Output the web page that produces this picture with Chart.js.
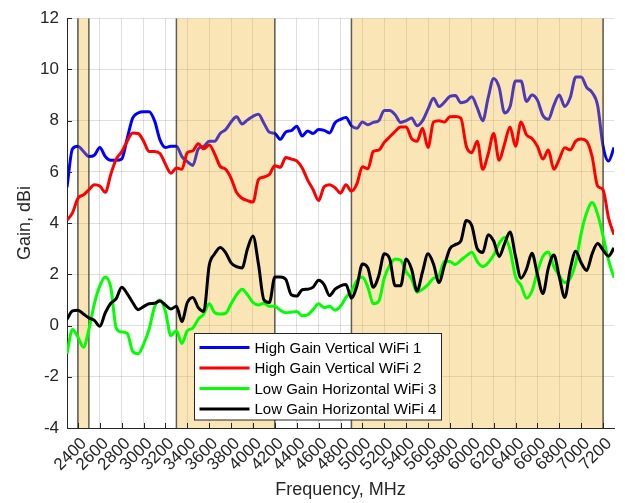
<!DOCTYPE html>
<html lang="en">
<head>
    <meta charset="UTF-8">
    <title>Antenna Gain vs Frequency</title>
    <script src="https://cdn.jsdelivr.net/npm/chart.js"></script>
    <style>
        html, body {
            margin: 0;
            padding: 0;
            background: #fff;
        }
        #wrap {
            width: 625px;
            height: 503px;
        }
    </style>
</head>
<body>
    <div id="wrap"><canvas id="gainChart" width="625" height="503"></canvas></div>
    <script>
        // frequency points, MHz
        const freqs = [
            2300, 2350, 2400, 2450, 2500, 2550, 2600, 2650, 2700, 2750,
            2800, 2850, 2900, 2950, 3000, 3050, 3100, 3150, 3200, 3250,
            3300, 3350, 3400, 3450, 3500, 3550, 3600, 3650, 3700, 3750,
            3800, 3850, 3900, 3950, 4000, 4050, 4100, 4150, 4200, 4250,
            4300, 4350, 4400, 4450, 4500, 4550, 4600, 4650, 4700, 4750,
            4800, 4850, 4900, 4950, 5000, 5050, 5100, 5150, 5200, 5250,
            5300, 5350, 5400, 5450, 5500, 5550, 5600, 5650, 5700, 5750,
            5800, 5850, 5900, 5950, 6000, 6050, 6100, 6150, 6200, 6250,
            6300, 6350, 6400, 6450, 6500, 6550, 6600, 6650, 6700, 6750,
            6800, 6850, 6900, 6950, 7000, 7050, 7100, 7150, 7200, 7250,
            7300
        ];

        const wifi1 = [
            5.4, 6.9, 7.0, 6.8, 6.6, 6.65, 6.95, 6.6, 6.45, 6.45,
            6.5, 7.3, 8.1, 8.3, 8.35, 8.35, 8.0, 7.25, 6.95, 7.0,
            7.0, 6.6, 6.4, 6.25, 6.9, 7.0, 7.2, 7.2, 7.5, 7.65,
            7.95, 8.15, 7.87, 8.03, 8.17, 8.25, 7.9, 7.55, 7.5, 7.27,
            7.56, 7.61, 7.78, 7.4, 7.6, 7.5, 7.65, 7.62, 7.52, 7.92,
            8.05, 8.12, 7.8, 7.7, 7.95, 7.84, 7.93, 8.0, 8.4, 8.4,
            8.23, 7.93, 8.0, 8.1, 7.8, 8.0, 8.45, 8.87, 8.55, 8.72,
            8.95, 8.98, 8.7, 8.75, 8.93, 8.5, 8.0, 8.9, 9.65, 9.3,
            8.3, 8.55, 9.55, 9.55, 8.75, 9.0, 8.8, 8.2, 8.05, 8.6,
            9.0, 8.55, 8.9, 9.7, 9.7, 9.3, 9.1, 8.6, 7.0, 6.42,
            6.95
        ];

        const wifi2 = [
            4.12, 4.4, 4.97, 5.1, 5.3, 5.5, 5.45, 5.2, 5.9, 6.5,
            6.78, 7.2, 7.52, 7.5, 7.2, 6.8, 6.8, 6.72, 6.3, 5.95,
            6.15, 6.1, 6.75, 6.82, 7.1, 6.9, 7.05, 6.7, 6.22, 6.1,
            5.75, 5.2, 4.97, 4.88, 4.82, 5.7, 5.8, 5.9, 6.24, 6.18,
            6.56, 6.5, 6.43, 6.15, 5.68, 5.3, 4.88, 5.42, 5.5, 5.38,
            5.17, 5.5, 5.25, 5.53, 6.2, 6.12, 6.8, 6.85, 7.15, 7.37,
            7.58, 7.75, 7.75, 7.3, 7.2, 7.7, 6.95, 7.95, 8.0, 7.95,
            8.15, 8.16, 8.1, 7.0, 6.75, 7.2, 6.1, 6.7, 7.5, 6.45,
            7.1, 7.75, 7.0, 7.95, 7.45, 7.3, 7.0, 6.5, 6.85, 6.1,
            6.5, 6.94, 6.86, 7.2, 7.28, 7.2, 6.6, 5.45, 5.3, 4.2,
            3.55
        ];

        const wifi3 = [
            -1.1, -0.15, -0.45, -0.85, -0.15, 0.85, 1.55, 1.9, 1.5, -0.1,
            -0.25, -0.3, -1.0, -1.1, -0.73, -0.15, 0.72, 1.0, 0.55, -0.4,
            -0.2, -0.7, -0.2, -0.1, 0.25, 0.45, 0.85, 0.5, 0.45, 0.48,
            0.85, 1.2, 1.42, 1.2, 0.9, 0.8, 0.87, 0.75, 0.75, 0.6,
            0.5, 0.52, 0.55, 0.38, 0.42, 0.62, 0.85, 0.7, 0.75, 0.6,
            0.75, 1.1, 1.35, 1.75, 1.9, 1.5, 0.85, 0.95, 1.85, 2.35,
            2.6, 2.55, 2.1, 1.82, 1.3, 1.42, 1.6, 1.85, 1.95, 2.5,
            2.5, 2.38, 2.55, 2.72, 2.86, 2.5, 2.3, 2.45, 2.75, 3.2,
            3.45, 2.95, 1.9, 1.57, 1.07, 1.35, 2.1, 2.7, 2.87, 2.3,
            1.95, 1.68, 1.85, 2.45, 3.6, 4.4, 4.8, 4.35, 3.5, 2.55,
            1.87
        ];

        const wifi4 = [
            0.25, 0.57, 0.6, 0.45, 0.3, 0.2, -0.03, 0.5, 0.87, 1.05,
            1.5, 1.25, 0.9, 0.62, 0.74, 0.85, 0.87, 0.96, 0.8, 0.65,
            0.75, 0.16, 0.9, 1.1, 0.7, 0.55, 2.35, 2.8, 3.05, 2.85,
            2.45, 2.3, 2.25, 3.0, 3.5, 2.4, 1.0, 0.9, 1.9, 1.9,
            1.8, 1.2, 1.15, 1.4, 1.42, 1.5, 1.77, 1.6, 1.17, 1.42,
            1.55, 1.6, 1.07, 1.55, 2.4, 2.25, 1.5, 1.95, 2.8, 2.6,
            1.55, 1.55, 2.6, 2.2, 1.35, 2.1, 2.8, 2.4, 1.68, 2.35,
            3.0, 3.16, 3.3, 4.1, 3.9, 3.0, 2.85, 3.55, 3.3, 2.7,
            3.2, 3.65, 2.7, 1.85, 2.2, 2.82, 2.0, 1.25, 2.25, 2.75,
            1.9, 1.1, 2.2, 2.9, 2.45, 2.15, 2.8, 3.2, 2.95, 2.71,
            3.03
        ];

        const seriesNames = [
            'High Gain Vertical WiFi 1',
            'High Gain Vertical WiFi 2',
            'Low Gain Horizontal WiFi 3',
            'Low Gain Horizontal WiFi 4'
        ];
        const seriesColors = ['#0000ff', '#ff0000', '#00ff00', '#000000'];

        // shaded frequency bands, MHz
        const bandStarts = [2400, 3300, 4900];
        const bandEnds = [2500, 4200, 7200];

        const xTicks = [
            2400, 2600, 2800, 3000, 3200, 3400, 3600, 3800, 4000, 4200, 4400, 4600, 4800,
            5000, 5200, 5400, 5600, 5800, 6000, 6200, 6400, 6600, 6800, 7000, 7200
        ];
        const yTicks = [-4, -2, 0, 2, 4, 6, 8, 10, 12];

        const axisColor = '#262626';
        const fontFamily = "'Liberation Sans', Arial, sans-serif";
        Chart.defaults.font.family = fontFamily;

        function toPoints(values) {
            return values.map((v, i) => ({ x: freqs[i], y: v }));
        }

        function drawBands(chart) {
            const { ctx, chartArea: a, scales } = chart;
            const x = scales.x;
            ctx.save();
            ctx.beginPath();
            ctx.rect(a.left, a.top, a.right - a.left, a.bottom - a.top);
            ctx.clip();
            bandStarts.forEach((start, i) => {
                const x0 = x.getPixelForValue(start);
                const x1 = x.getPixelForValue(bandEnds[i]);
                ctx.fillStyle = 'rgba(237, 177, 32, 0.33)';
                ctx.fillRect(x0, a.top, x1 - x0, a.bottom - a.top);
                ctx.strokeStyle = 'rgba(30, 30, 30, 0.7)';
                ctx.lineWidth = 1.5;
                [x0, x1].forEach(px => {
                    ctx.beginPath();
                    ctx.moveTo(px, a.top);
                    ctx.lineTo(px, a.bottom);
                    ctx.stroke();
                });
            });
            ctx.restore();
        }

        const bandPlugin = {
            id: 'bandsAndLegend',
            // the bands sit on top of the first series only
            afterDatasetDraw(chart, args) {
                if (args.index === 0) drawBands(chart);
            },
            afterDatasetsDraw(chart) {
                const { ctx, chartArea: a, scales } = chart;
                const x = scales.x, y = scales.y;

                // inward tick marks
                ctx.save();
                ctx.strokeStyle = axisColor;
                ctx.lineWidth = 1;
                xTicks.forEach(v => {
                    const px = Math.round(x.getPixelForValue(v)) + 0.5;
                    ctx.beginPath();
                    ctx.moveTo(px, a.bottom);
                    ctx.lineTo(px, a.bottom - 5);
                    ctx.stroke();
                });
                yTicks.forEach(v => {
                    const py = Math.round(y.getPixelForValue(v)) + 0.5;
                    ctx.beginPath();
                    ctx.moveTo(a.left, py);
                    ctx.lineTo(a.left + 5, py);
                    ctx.stroke();
                });

                // rotated frequency labels
                ctx.fillStyle = axisColor;
                ctx.font = '17px ' + fontFamily;
                ctx.textAlign = 'right';
                ctx.textBaseline = 'middle';
                xTicks.forEach(v => {
                    ctx.save();
                    ctx.translate(x.getPixelForValue(v) + 6, a.bottom + 13);
                    ctx.rotate(-Math.PI / 4);
                    ctx.fillText(String(v), 0, 0);
                    ctx.restore();
                });
                ctx.restore();

                // legend box inside the plot
                const lx = a.left + 127.5, ly = a.bottom - 94.5, lw = 247, lh = 86.5;
                ctx.save();
                ctx.fillStyle = '#ffffff';
                ctx.fillRect(lx, ly, lw, lh);
                ctx.strokeStyle = axisColor;
                ctx.lineWidth = 1;
                ctx.strokeRect(lx, ly, lw, lh);
                ctx.font = '15px ' + fontFamily;
                ctx.textBaseline = 'middle';
                ctx.textAlign = 'left';
                chart.data.datasets.forEach((ds, i) => {
                    const rowY = ly + 14 + i * 20.5;
                    ctx.strokeStyle = ds.borderColor;
                    ctx.lineWidth = 3;
                    ctx.beginPath();
                    ctx.moveTo(lx + 5, rowY);
                    ctx.lineTo(lx + 55, rowY);
                    ctx.stroke();
                    ctx.fillStyle = '#000000';
                    ctx.fillText(ds.label, lx + 60, rowY + 1);
                });
                ctx.restore();
            }
        };

        const ctx = document.getElementById('gainChart').getContext('2d');
        new Chart(ctx, {
            type: 'line',
            data: {
                datasets: [wifi1, wifi2, wifi3, wifi4].map((vals, i) => ({
                    label: seriesNames[i],
                    data: toPoints(vals),
                    borderColor: seriesColors[i],
                    backgroundColor: seriesColors[i],
                    borderWidth: 3,
                    pointRadius: 0,
                    cubicInterpolationMode: 'monotone',
                    fill: false,
                    // higher order is drawn first, so WiFi 1 is at the bottom
                    order: 3 - i
                }))
            },
            options: {
                responsive: false,
                animation: false,
                layout: {
                    padding: { top: 13, right: 11, left: 0, bottom: 0 }
                },
                plugins: {
                    legend: { display: false },
                    tooltip: { enabled: false }
                },
                scales: {
                    x: {
                        type: 'linear',
                        min: 2300,
                        max: 7300,
                        afterBuildTicks: s => { s.ticks = xTicks.map(v => ({ value: v })); },
                        afterFit: s => { s.height = 75; },
                        ticks: {
                            display: false,
                            autoSkip: false
                        },
                        grid: {
                            color: 'rgba(38, 38, 38, 0.15)',
                            drawTicks: false
                        },
                        border: { color: axisColor, width: 1 },
                        title: {
                            display: true,
                            text: 'Frequency, MHz',
                            color: axisColor,
                            font: { size: 18 },
                            padding: { top: 0, bottom: 2 }
                        }
                    },
                    y: {
                        min: -4,
                        max: 12,
                        afterBuildTicks: s => { s.ticks = yTicks.map(v => ({ value: v })); },
                        afterFit: s => { s.width = 67; },
                        ticks: {
                            padding: 8,
                            color: axisColor,
                            font: { size: 17 }
                        },
                        grid: {
                            color: 'rgba(38, 38, 38, 0.15)',
                            drawTicks: false
                        },
                        border: { color: axisColor, width: 1 },
                        title: {
                            display: true,
                            text: 'Gain, dBi',
                            color: axisColor,
                            font: { size: 18 },
                            padding: { top: 14, bottom: 0 }
                        }
                    }
                }
            },
            plugins: [bandPlugin]
        });
    </script>
</body>
</html>
